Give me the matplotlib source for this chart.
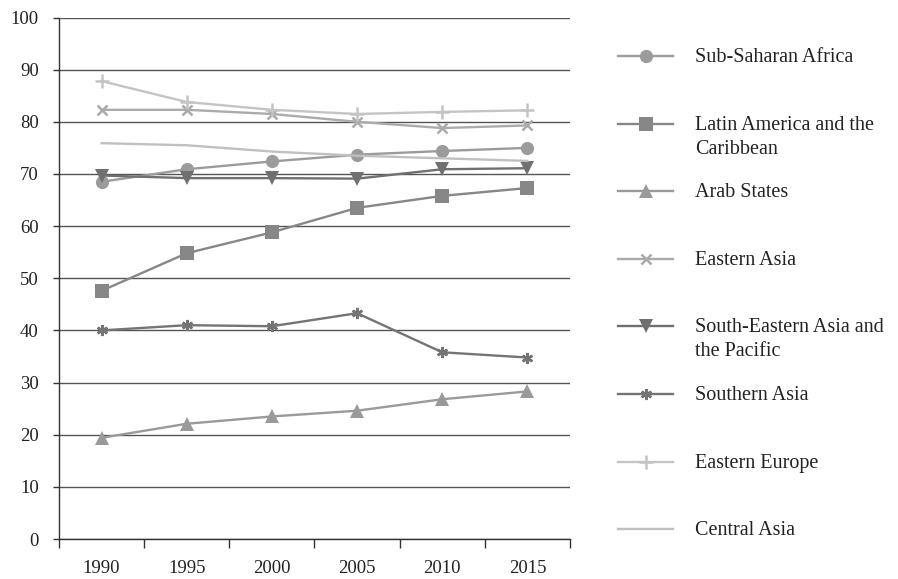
import numpy as np
import matplotlib
matplotlib.use('Agg')
import matplotlib.pyplot as plt
from matplotlib.lines import Line2D

plt.rcParams['font.family'] = ['Liberation Serif', 'DejaVu Serif']

years = ['1990', '1995', '2000', '2005', '2010', '2015']

sub_saharan = [68.5, 70.9, 72.4, 73.7, 74.4, 75.0]
latin_america = [47.6, 54.8, 58.8, 63.5, 65.8, 67.3]
arab_states = [19.4, 22.1, 23.5, 24.6, 26.8, 28.3]
eastern_asia = [82.3, 82.3, 81.5, 80.0, 78.8, 79.3]
se_asia = [69.7, 69.2, 69.2, 69.1, 70.9, 71.1]
southern_asia = [40.0, 41.0, 40.8, 43.3, 35.8, 34.8]
eastern_europe = [87.8, 83.8, 82.3, 81.5, 81.9, 82.2]
central_asia = [75.9, 75.5, 74.3, 73.5, 73.0, 72.5]

labels = ['Sub-Saharan Africa', 'Latin America and the\nCaribbean', 'Arab States',
          'Eastern Asia', 'South-Eastern Asia and\nthe Pacific', 'Southern Asia',
          'Eastern Europe', 'Central Asia']
series = [sub_saharan, latin_america, arab_states, eastern_asia,
          se_asia, southern_asia, eastern_europe, central_asia]
# (colour, marker, markersize, marker edge width)
styles = [('#9b9b9b', 'o', 9.5, 0),
          ('#878787', 's', 9.5, 0),
          ('#9a9a9a', '^', 10, 0),
          ('#ababab', 'x', 7, 1.8),
          ('#707070', 'v', 10, 0),
          ('#747474', (6, 2, 0), 8, 1.8),
          ('#c4c4c4', '+', 10, 1.8),
          ('#c0c0c0', None, 0, 0)]

fig = plt.figure(figsize=(8.98, 5.79), dpi=100)
ax = fig.add_axes([59/898, 1 - 539/579, (570-59)/898, (539-17.5)/579])

x = np.arange(len(years))
for vals, (col, mk, ms, mew) in zip(series, styles):
    ax.plot(x, vals, color=col, lw=1.7, marker=mk, markersize=ms,
            markeredgewidth=mew, markeredgecolor=col, markerfacecolor=col)

ax.set_xlim(-0.5, len(years) - 0.5)
ax.set_ylim(0, 100)
ax.set_yticks(np.arange(0, 101, 10))
ax.yaxis.grid(True, color='#555555', lw=1.0)
ax.set_axisbelow(True)
ax.set_xticks(x)
ax.set_xticklabels(years)
ax.set_xticks(np.arange(-0.5, len(years)), minor=True)
ax.tick_params(axis='x', which='major', length=0, pad=15, labelsize=13.5, labelcolor='#222222')
ax.tick_params(axis='x', which='minor', length=6.5, width=1.0, color='#333333', direction='out')
ax.tick_params(axis='y', length=4.5, width=1.0, color='#333333', pad=10, labelsize=13.5, labelcolor='#222222')
for s in ['top', 'right']:
    ax.spines[s].set_visible(False)
for s in ['left', 'bottom']:
    ax.spines[s].set_color('#333333')
    ax.spines[s].set_linewidth(1.0)

# legend drawn by hand so that entries are evenly spaced, handle on first line
y0, step = 56, 67.6
for i, (lab, (col, mk, ms, mew)) in enumerate(zip(labels, styles)):
    yy = 1 - (y0 + i * step) / 579
    fig.add_artist(Line2D([618/898, 673/898], [yy, yy], transform=fig.transFigure,
                          color=col, lw=1.7))
    if mk is not None:
        fig.add_artist(Line2D([645.5/898], [yy], transform=fig.transFigure, color=col,
                              marker=mk, markersize=ms, markeredgewidth=mew,
                              markeredgecolor=col, markerfacecolor=col, lw=0))
    fig.text(695/898, yy + 8/579, lab, fontsize=14.5, color='#222222',
             va='top', ha='left', linespacing=1.35)

fig.savefig('out.png', dpi=100)
